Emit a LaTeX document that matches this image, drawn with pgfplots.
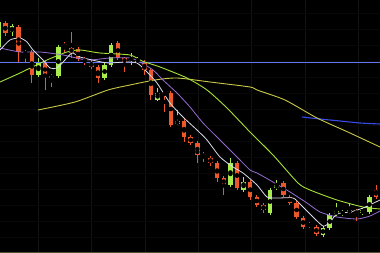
\documentclass[border=0pt]{standalone}
\usepackage{pgfplots}
\usepackage{pgfplotstable}
\pgfplotsset{compat=1.18}

\definecolor{bull}{RGB}{168,235,78}
\definecolor{bear}{RGB}{236,88,44}
\definecolor{maW}{RGB}{220,220,235}
\definecolor{maP}{RGB}{150,110,210}
\definecolor{maG}{RGB}{165,225,55}
\definecolor{maY}{RGB}{200,200,70}
\definecolor{levelA}{RGB}{100,118,238}
\definecolor{levelB}{RGB}{55,75,232}
\definecolor{gridv}{RGB}{18,18,18}
\definecolor{gridh}{RGB}{8,8,8}

% rising candles: x, high, body top, body bottom, low
\pgfplotstableread{
x hi top bot lo
-1.3 235 231 206 203
12.0 229 227 221 217
38.4 195 190 178 176
58.3 208 206 177 175
104.6 190 188 175 173
111.2 210 208 188 186
131.1 200 196 192 188
137.7 196 194 191 189
157.6 165 160 153 152
177.4 143 132 129 128
230.4 95 90 68 66
243.6 76 71 63 61
270.1 65 63 40 38
276.7 73 68 65 63
323.0 27 25 18 16
329.7 40 38 25 23
336.3 50 42 39 37
342.9 43 41 39 37
349.5 50 43 40 39
362.7 45 43 40 38
369.4 58 56 41 39
}\upTable

% falling candles
\pgfplotstableread{
x hi top bot lo
5.3 232 230 220 217
18.6 228 226 201 191
25.2 203 201 199 190
31.8 203 201 178 170
45.0 192 190 177 163
51.7 179 177 175 166
64.9 211 209 206 200
71.5 221 205 200 195
78.1 206 204 194 192
84.8 196 194 191 188
91.4 193 191 186 184
98.0 188 186 175 170
117.9 212 210 195 193
124.5 196 195 190 181
144.3 193 191 183 178
150.9 185 183 158 153
164.2 161 160 158 141
170.8 162 160 128 126
184.0 134 132 116 111
190.7 118 116 110 108
197.3 112 110 98 90
203.9 101 99 96 91
210.5 97 95 90 87
217.1 92 90 75 71
223.8 77 75 68 58
237.0 92 90 65 63
250.2 73 71 56 53
256.8 58 56 48 46
263.5 50 48 43 40
283.3 72 70 58 56
289.9 58 56 50 48
296.6 52 50 36 34
303.2 37 35 26 24
309.8 31 29 27 25
316.4 28 26 19 17
356.1 44 42 39 32
376.0 68 63 56 54
}\downTable

\begin{document}
\begin{tikzpicture}
\begin{axis}[
  scale only axis, width=380pt, height=253pt,
  xmin=0, xmax=380, ymin=0, ymax=253,
  axis background/.style={fill=black},
  axis line style={draw=none},
  xtick={38,91.5,145,198,251.5,305,358},
  ytick={16,32,48,64,80,96,112,128,144,160,176,192,208,224,240},
  xticklabels={}, yticklabels={},
  major tick length=0pt,
  grid=major,
  x grid style={gridv, line width=0.7pt},
  y grid style={gridh, line width=0.5pt},
  clip=true,
]
% wicks
\addplot[only marks, mark=none, forget plot,
  error bars/.cd, y dir=both, y explicit, error mark=none,
  error bar style={draw=bull, line width=1pt}]
  table[x=x, y expr={(\thisrow{hi}+\thisrow{lo})/2},
        y error expr={(\thisrow{hi}-\thisrow{lo})/2}] {\upTable};
\addplot[only marks, mark=none, forget plot,
  error bars/.cd, y dir=both, y explicit, error mark=none,
  error bar style={draw=bear, line width=1pt}]
  table[x=x, y expr={(\thisrow{hi}+\thisrow{lo})/2},
        y error expr={(\thisrow{hi}-\thisrow{lo})/2}] {\downTable};
% bodies
\addplot[only marks, mark=none, forget plot,
  error bars/.cd, y dir=both, y explicit, error mark=none,
  error bar style={draw=bull, line width=4.5pt}]
  table[x=x, y expr={(\thisrow{top}+\thisrow{bot})/2},
        y error expr={max((\thisrow{top}-\thisrow{bot})/2,0.8)}] {\upTable};
\addplot[only marks, mark=none, forget plot,
  error bars/.cd, y dir=both, y explicit, error mark=none,
  error bar style={draw=bear, line width=4.5pt}]
  table[x=x, y expr={(\thisrow{top}+\thisrow{bot})/2},
        y error expr={max((\thisrow{top}-\thisrow{bot})/2,0.8)}] {\downTable};

% level lines
\addplot[color=levelA, line width=1pt, mark=none] coordinates {(0,190) (380,190)};
\addplot[color=levelB, line width=1.1pt, mark=none, smooth] coordinates {
  (302,136) (320,134) (340,132) (360,130) (380,129)};

% moving averages
\addplot[color=maY, line width=0.9pt, mark=none, smooth, tension=0.4] coordinates {
  (38,143) (75,151) (108,163) (130,168) (155,173) (177,175) (210,171)
  (250,166) (257,163) (285,153) (317,135) (350,120) (380,106)};
\addplot[color=maG, line width=0.9pt, mark=none, smooth, tension=0.4] coordinates {
  (0,171) (20,180) (47,193) (67,201) (80,203) (100,200) (130,198)
  (142,192) (160,186) (187,175) (207,163) (227,145) (250,121) (273,98)
  (298,70) (310,63) (337,53) (363,46) (380,44)};
\addplot[color=maP, line width=0.8pt, mark=none, smooth, tension=0.4] coordinates {
  (0,205) (20,201) (40,201) (63,198) (87,193) (110,195) (130,195)
  (140,191) (153,183) (163,173) (177,160) (190,146) (203,130) (220,113)
  (237,96) (250,83) (257,80) (273,71) (290,61) (307,50) (320,41)
  (337,36) (357,34) (370,37) (380,42)};
\addplot[color=maW, line width=0.8pt, mark=none, smooth, tension=0.4] coordinates {
  (0,203) (10,213) (20,215) (27,211) (33,203) (43,193) (50,185) (57,185)
  (65,193) (72,200) (80,196) (92,193) (108,190) (125,191) (137,190)
  (147,181) (157,170) (170,150) (183,136) (197,123) (207,113) (220,96)
  (233,86) (243,80) (257,68) (267,56) (277,55) (293,55) (300,49)
  (310,39) (323,27) (330,31) (337,39) (350,41) (363,45) (380,53)};

\draw[color={rgb,255:red,80;green,80;blue,50}, line width=1pt]
  (axis cs:0,0.5) -- (axis cs:380,0.5);
\end{axis}
\pgfresetboundingbox
\path (0,0) rectangle (380pt,253pt);
\end{tikzpicture}
\end{document}
